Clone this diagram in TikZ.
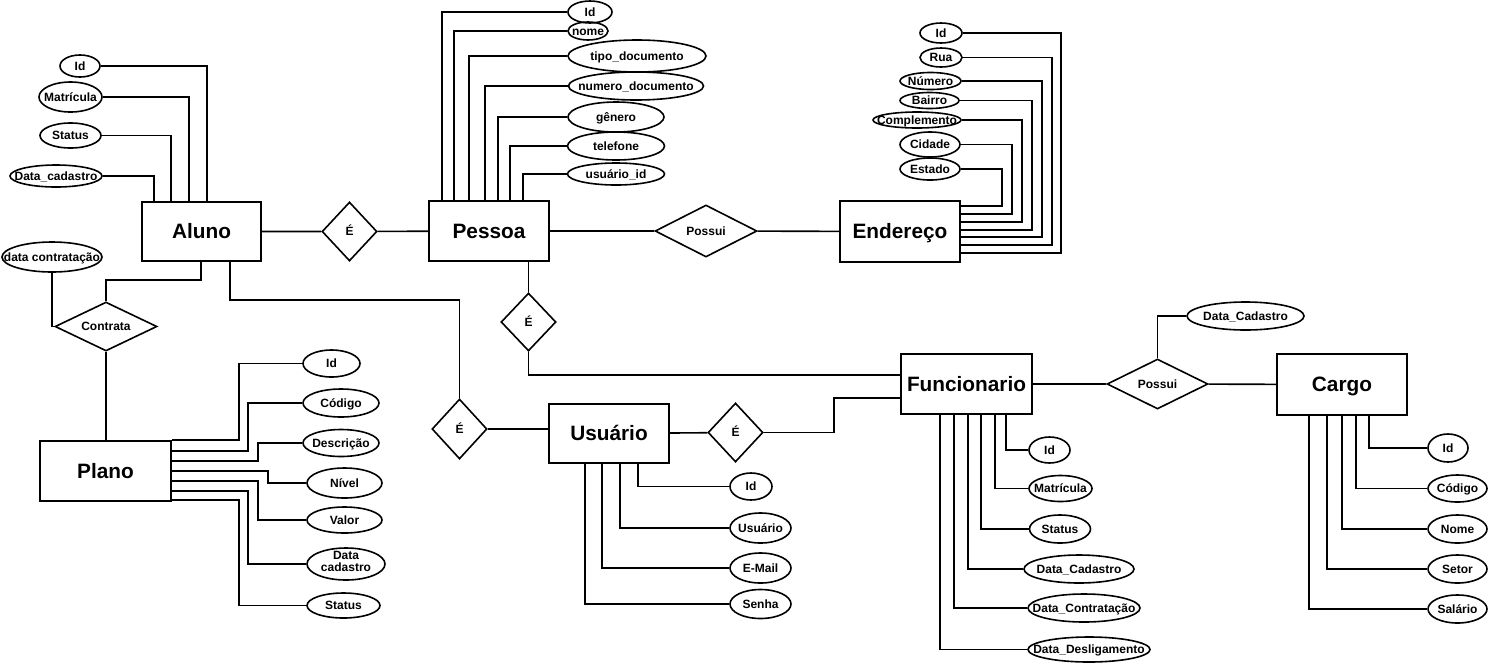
\documentclass[tikz,border=0pt]{standalone}
\usepackage{fontspec}
\setmainfont{Liberation Sans}
\usetikzlibrary{shapes.geometric,calc}
\newcommand{\ct}[1]{\smash{\makebox[0pt]{\raisebox{-0.36em}{#1}}}}
\begin{document}
\begin{tikzpicture}[x=1pt,y=-1pt,line width=1.6pt,
 ent/.style 2 args={draw, rectangle, inner sep=0pt, minimum width=#1pt, minimum height=#2pt, font=\fontsize{20.8}{24}\selectfont\bfseries},
 rel/.style 2 args={draw, diamond, inner sep=0pt, minimum width=#1pt, minimum height=#2pt, font=\fontsize{12}{14}\selectfont\bfseries},
 attr/.style 2 args={draw, ellipse, inner sep=0pt, minimum width=#1pt, minimum height=#2pt, font=\fontsize{12}{14}\selectfont\bfseries},
 link/.style={draw, line width=1.6pt}
]
\useasboundingbox (0,0) rectangle (1488,665);

% entities
\node[ent={119}{59}] (aluno) at (201.5,231.5) {\ct{Aluno}};
\node[ent={120}{60}] (pessoa) at (489,231) {\ct{Pessoa}};
\node[ent={120}{61}] (endereco) at (900,231.5) {\ct{Endereço}};
\node[ent={131}{60}] (func) at (966.5,384) {\ct{Funcionario}};
\node[ent={130}{61}] (cargo) at (1342,384.5) {\ct{Cargo}};
\node[ent={120}{59}] (usuario) at (609,433.5) {\ct{Usuário}};
\node[ent={131}{60}] (plano) at (105.5,471) {\ct{Plano}};

% relationships
\node[rel={55}{59}] (r1) at (349.5,231.5) {\ct{É}};
\node[rel={102}{52}] (r2) at (706,231) {\ct{Possui}};
\node[rel={55}{58}] (r3) at (528.5,322) {\ct{É}};
\node[rel={102}{49}] (r4) at (106,326.5) {\ct{Contrata}};
\node[rel={55}{60}] (r5) at (459.5,429) {\ct{É}};
\node[rel={55}{59}] (r6) at (735.5,432.5) {\ct{É}};
\node[rel={101}{50}] (r7) at (1157.5,384) {\ct{Possui}};

% relationship attributes
\node[attr={100}{30}] (dc) at (52,257) {\ct{data contratação}};
\node[attr={117}{28}] (dcad) at (1245.5,316) {\ct{Data\_Cadastro}};

% Aluno attributes
\node[attr={40}{22}] (aId) at (80,66) {\ct{Id}};
\node[attr={63}{30}] (aMat) at (70.5,97) {\ct{Matrícula}};
\node[attr={61}{25}] (aSt) at (70.5,135.5) {\ct{Status}};
\node[attr={92}{22}] (aDc) at (56,176) {\ct{Data\_cadastro}};

% Pessoa attributes
\node[attr={44}{22}] (pId) at (590,12) {\ct{Id}};
\node[attr={40}{18}] (pNome) at (588,31) {\ct{nome}};
\node[attr={138}{32}] (pTipo) at (637,56) {\ct{tipo\_documento}};
\node[attr={135}{28}] (pNum) at (636,86) {\ct{numero\_documento}};
\node[attr={96}{30}] (pGen) at (616,117) {\ct{gênero}};
\node[attr={97}{28}] (pTel) at (616,146) {\ct{telefone}};
\node[attr={97}{22}] (pUid) at (616,174) {\ct{usuário\_id}};

% Endereco attributes
\node[attr={42}{20}] (eId) at (941,33) {\ct{Id}};
\node[attr={42}{19}] (eRua) at (941,57.5) {\ct{Rua}};
\node[attr={61}{17}] (eNum) at (930.5,81) {\ct{Número}};
\node[attr={59}{16}] (eBai) at (929.5,100.5) {\ct{Bairro}};
\node[attr={88}{16}] (eComp) at (917,120) {\ct{Complemento}};
\node[attr={60}{25}] (eCid) at (930,144.5) {\ct{Cidade}};
\node[attr={60}{22}] (eEst) at (930,169) {\ct{Estado}};

% Plano attributes
\node[attr={57}{27}] (lId) at (331.5,363.5) {\ct{Id}};
\node[attr={76}{28}] (lCod) at (341,403) {\ct{Código}};
\node[attr={76}{27}] (lDesc) at (341,443) {\ct{Descrição}};
\node[attr={75}{30}] (lNiv) at (344.5,483) {\ct{Nível}};
\node[attr={75}{26}] (lVal) at (344.5,520) {\ct{Valor}};
\node[attr={78}{32}] (lDc) at (346,564) {\smash{\makebox[0pt]{\raisebox{-0.1em}{\begin{tabular}[c]{@{}c@{}}Data\\[-2pt]cadastro\end{tabular}}}}};
\node[attr={73}{25}] (lSt) at (343.5,605.5) {\ct{Status}};

% Usuario attributes
\node[attr={42}{27}] (uId) at (751,486.5) {\ct{Id}};
\node[attr={61}{30}] (uUs) at (760.5,528) {\ct{Usuário}};
\node[attr={61}{30}] (uEm) at (760.5,568) {\ct{E-Mail}};
\node[attr={61}{29}] (uSe) at (760.5,604) {\ct{Senha}};

% Funcionario attributes
\node[attr={41}{26}] (fId) at (1049.5,450) {\ct{Id}};
\node[attr={63}{26}] (fMat) at (1060.5,488.5) {\ct{Matrícula}};
\node[attr={61}{28}] (fSt) at (1060,529) {\ct{Status}};
\node[attr={110}{28}] (fDc) at (1079,569) {\ct{Data\_Cadastro}};
\node[attr={112}{28}] (fDct) at (1084,608) {\ct{Data\_Contratação}};
\node[attr={122}{25}] (fDd) at (1089,649.5) {\ct{Data\_Desligamento}};

% Cargo attributes
\node[attr={40}{28}] (cId) at (1448,448) {\ct{Id}};
\node[attr={59}{27}] (cCod) at (1457.5,488.5) {\ct{Código}};
\node[attr={59}{28}] (cNome) at (1457.5,529) {\ct{Nome}};
\node[attr={59}{28}] (cSet) at (1457.5,569) {\ct{Setor}};
\node[attr={59}{28}] (cSal) at (1457.5,609) {\ct{Salário}};

% relationship connectors
\draw[link] (aluno) -- (r1) -- (pessoa);
\draw[link] (pessoa) -- (r2) -- (endereco);
\draw[link] (r3.north) -- (r3.north |- pessoa.south);
\draw[link] (r3.south) |- ($(func.north west)+(0,22)$);
\draw[link] (usuario) -- (r6);
\draw[link] (r6.east) -- ++(70,0) |- ($(func.north west)+(0,45)$);
\draw[link] ($(aluno.south west)+(89,0)$) |- ($(r5.north)+(0,-98)$) -- (r5.north);
\draw[link] (r5.east) -- (r5.east -| usuario.west);
\draw[link] ($(aluno.south west)+(60,0)$) |- ($(r4.north)+(0,-21)$) -- (r4.north);
\draw[link] (r4.south) -- (r4.south |- plano.north);
\draw[link] (dc.south) |- (r4.west);
\draw[link] (func) -- (r7) -- (cargo);
\draw[link] (r7.north) |- (dcad.west);

% Aluno attribute connectors
\draw[link] (aId.east) -| ($(aluno.north west)+(66,0)$);
\draw[link] (aMat.east) -| ($(aluno.north west)+(48,0)$);
\draw[link] (aSt.east) -| ($(aluno.north west)+(30,0)$);
\draw[link] (aDc.east) -| ($(aluno.north west)+(13,0)$);

% Pessoa attribute connectors
\draw[link] (pId.west) -| ($(pessoa.north west)+(14,0)$);
\draw[link] (pNome.west) -| ($(pessoa.north west)+(26,0)$);
\draw[link] (pTipo.west) -| ($(pessoa.north west)+(41,0)$);
\draw[link] (pNum.west) -| ($(pessoa.north west)+(57,0)$);
\draw[link] (pGen.west) -| ($(pessoa.north west)+(70,0)$);
\draw[link] (pTel.west) -| ($(pessoa.north west)+(82,0)$);
\draw[link] (pUid.west) -| ($(pessoa.north west)+(95,0)$);

% Endereco attribute connectors
\draw[link] (eId.east) -| ($(endereco.north east)+(100,53)$) -- ($(endereco.north east)+(0,53)$);
\draw[link] (eRua.east) -| ($(endereco.north east)+(91,45)$) -- ($(endereco.north east)+(0,45)$);
\draw[link] (eNum.east) -| ($(endereco.north east)+(81,37)$) -- ($(endereco.north east)+(0,37)$);
\draw[link] (eBai.east) -| ($(endereco.north east)+(71,30)$) -- ($(endereco.north east)+(0,30)$);
\draw[link] (eComp.east) -| ($(endereco.north east)+(61,22)$) -- ($(endereco.north east)+(0,22)$);
\draw[link] (eCid.east) -| ($(endereco.north east)+(51,14)$) -- ($(endereco.north east)+(0,14)$);
\draw[link] (eEst.east) -| ($(endereco.north east)+(41,6)$) -- ($(endereco.north east)+(0,6)$);

% Plano attribute connectors
\draw[link] (lId.west) -| ($(plano.north east)+(67,0)$) -- (plano.north east);
\draw[link] (lCod.west) -| ($(plano.north east)+(76,11)$) -- ($(plano.north east)+(0,11)$);
\draw[link] (lDesc.west) -| ($(plano.north east)+(86,21)$) -- ($(plano.north east)+(0,21)$);
\draw[link] (lNiv.west) -| ($(plano.north east)+(96,31)$) -- ($(plano.north east)+(0,31)$);
\draw[link] (lVal.west) -| ($(plano.north east)+(86,41)$) -- ($(plano.north east)+(0,41)$);
\draw[link] (lDc.west) -| ($(plano.north east)+(76,51)$) -- ($(plano.north east)+(0,51)$);
\draw[link] (lSt.west) -| ($(plano.north east)+(67,60)$) -- ($(plano.north east)+(0,60)$);

% Usuario attribute connectors
\draw[link] (uId.west) -| ($(usuario.south west)+(90,0)$);
\draw[link] (uUs.west) -| ($(usuario.south west)+(72,0)$);
\draw[link] (uEm.west) -| ($(usuario.south west)+(54,0)$);
\draw[link] (uSe.west) -| ($(usuario.south west)+(37,0)$);

% Funcionario attribute connectors
\draw[link] (fId.west) -| ($(func.south west)+(106,0)$);
\draw[link] (fMat.west) -| ($(func.south west)+(95,0)$);
\draw[link] (fSt.west) -| ($(func.south west)+(81,0)$);
\draw[link] (fDc.west) -| ($(func.south west)+(68,0)$);
\draw[link] (fDct.west) -| ($(func.south west)+(54,0)$);
\draw[link] (fDd.west) -| ($(func.south west)+(40,0)$);

% Cargo attribute connectors
\draw[link] (cId.west) -| ($(cargo.south west)+(93,0)$);
\draw[link] (cCod.west) -| ($(cargo.south west)+(80,0)$);
\draw[link] (cNome.west) -| ($(cargo.south west)+(66,0)$);
\draw[link] (cSet.west) -| ($(cargo.south west)+(51,0)$);
\draw[link] (cSal.west) -| ($(cargo.south west)+(33,0)$);
\end{tikzpicture}
\end{document}
